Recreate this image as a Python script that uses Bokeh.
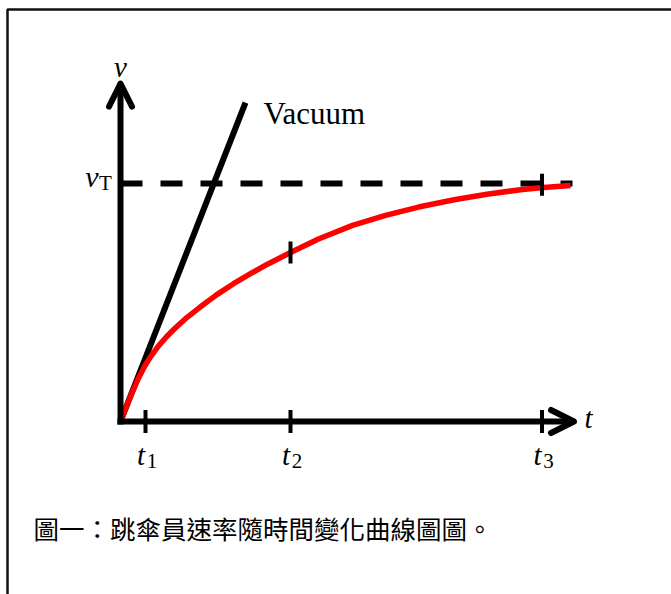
from bokeh.plotting import figure
from bokeh.models import Range1d, Arrow, OpenHead
from bokeh.core.properties import value
from bokeh.embed import file_html
from bokeh.resources import INLINE

# ---- data ----
t_curve = [0.0, 0.12, 0.24, 0.36, 0.48, 0.6, 0.76, 0.92, 1.1, 1.3, 1.6, 1.92,
           2.26, 2.6, 2.94, 3.4, 3.96, 4.64, 5.3, 5.96, 6.7, 7.36, 8.04, 8.46, 9.0]
v_curve = [0.0, 0.064, 0.126, 0.182, 0.231, 0.272, 0.318, 0.356, 0.394, 0.432,
           0.482, 0.532, 0.579, 0.621, 0.661, 0.710, 0.767, 0.824, 0.866, 0.901,
           0.933, 0.956, 0.975, 0.983, 0.992]
vacuum_t = [0.0, 2.5]
vacuum_v = [0.0, 1.34]
v_terminal = 1.0
terminal_t_end = 9.04
tick_times = [0.5, 3.4, 8.43]
tick_subs = ["1", "2", "3"]
mark_t = [3.4, 8.43]
mark_v = [0.71, 0.995]
axis_t_max = 9.07
axis_v_max = 1.42
caption = "圖一：跳傘員速率隨時間變化曲線圖圖。"

SERIF = value("Liberation Serif")

p = figure(width=671, height=594, output_backend="svg", toolbar_location=None,
           x_range=Range1d(-2.4, 11.02), y_range=Range1d(-0.7269, 1.7689),
           x_axis_type=None, y_axis_type=None, min_border=0,
           background_fill_color="white", border_fill_color="white")
p.grid.visible = False
p.outline_line_color = None

# frame border (left and top edges visible in reference)
p.line([-2.26, -2.26, 11.5], [-1.0, 1.731, 1.731], line_color="#111111", line_width=2.5)

# terminal velocity dashed line
p.line([0.0, terminal_t_end], [v_terminal, v_terminal], line_color="black",
       line_width=6, line_dash="22 18")

# vacuum line
p.line(vacuum_t, vacuum_v, line_color="black", line_width=6)

# drag curve
p.line(t_curve, v_curve, line_color="#ff0000", line_width=5.5, line_join="round")

# axes bodies
p.segment(x0=[-0.06, 0.0], y0=[0.0, -0.0126], x1=[axis_t_max, 0.0], y1=[0.0, axis_v_max],
          line_color="black", line_width=6)
# arrow heads
for xs, ys, xe, ye in [(axis_t_max - 1, 0.0, axis_t_max, 0.0), (0.0, axis_v_max - 0.2, 0.0, axis_v_max)]:
    p.add_layout(Arrow(end=OpenHead(size=23, line_width=6, line_color="black",
                                    line_join="round", line_cap="round"),
                       x_start=xs, y_start=ys, x_end=xe, y_end=ye, line_alpha=0))

# ticks on time axis
p.scatter(tick_times, [0.0] * len(tick_times), marker="dash", angle=1.5708, size=23,
          line_color="black", line_width=4)
# marks on curve
p.scatter(mark_t, mark_v, marker="dash", angle=1.5708, size=22,
          line_color="black", line_width=4)

# tick labels t_1, t_2, t_3
p.text(tick_times, [-0.1387] * 3, text=["t"] * 3, x_offset=-4.5,
       text_font=SERIF, text_font_style="italic", text_font_size="29px",
       text_align="center", text_baseline="alphabetic", text_color="black")
p.text(tick_times, [-0.168] * 3, text=tick_subs, x_offset=6.5,
       text_font=SERIF, text_font_size="21px",
       text_align="center", text_baseline="alphabetic", text_color="black")

# axis labels
p.text([9.36], [0.0126], text=["t"], text_font=SERIF, text_font_style="italic",
       text_font_size="29px", text_align="center", text_baseline="alphabetic")
p.text([0.0], [1.489], text=["v"], text_font=SERIF, text_font_style="italic",
       text_font_size="29px", text_align="center", text_baseline="alphabetic")
p.text([-0.57], [1.029], text=["v"], text_font=SERIF, text_font_style="italic",
       text_font_size="30px", text_align="center", text_baseline="alphabetic")
p.text([-0.30], [1.004], text=["T"], text_font=SERIF,
       text_font_size="21px", text_align="center", text_baseline="alphabetic")

# Vacuum label
p.text([2.86], [1.294], text=["Vacuum"], text_font=SERIF, text_font_size="31px",
       text_align="left", text_baseline="alphabetic")

# caption
p.text([-1.74], [-0.445], text=[caption], text_font=value("Noto Sans CJK TC"),
       text_font_size="25.5px", text_align="left", text_baseline="middle")

open("out.html", "w").write(file_html(p, INLINE))
